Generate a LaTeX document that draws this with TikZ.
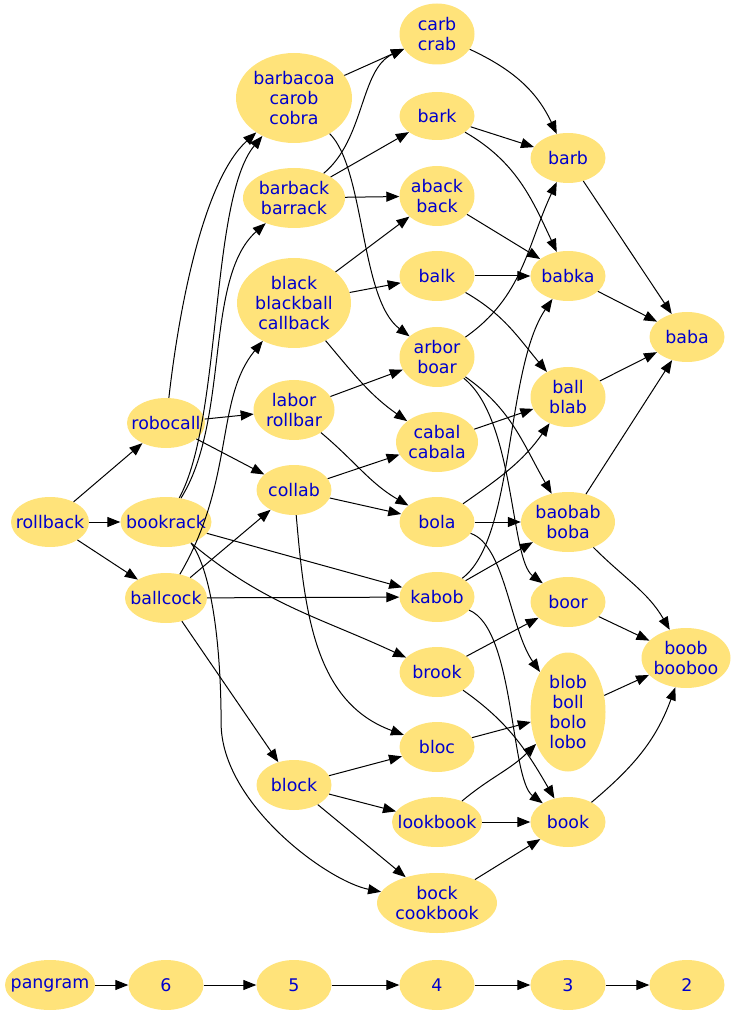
\documentclass[tikz,border=0pt]{standalone}
\usepackage{fontspec}
\setmainfont{DejaVu Sans}
\usepackage{xcolor}
\usepackage{tikz}
\usetikzlibrary{shapes, positioning, arrows.meta}
\definecolor{wordfill}{RGB}{255,227,122}
\definecolor{wordtext}{RGB}{0,0,205}

\begin{document}
\begin{tikzpicture}[
    on grid, align = center,
    word/.style = {
      ellipse, fill = wordfill, text = wordtext,
      font = \fontsize{17.4}{20}\selectfont,
      inner xsep = -14pt, inner ysep = 0pt,
      minimum width = 75pt, minimum height = 50pt
    },
    wordpair/.style = {word, minimum height = 60pt},
    wordtriple/.style = {word, minimum height = 90pt},
    link/.style = {
      arrows = ->, line width = 1pt, > = {Triangle[length = 13pt, width = 10pt]}
    },
    ]

    \useasboundingbox (-50pt, -493pt) rectangle (689pt, 522pt);

    % draw letter sets of six
    \node  [word, minimum width = 78pt]  (rollback)  {rollback};
    \node  [word, minimum width = 91pt]  (bookrack)  [right = 116pt of rollback]  {bookrack};
    \node  [word, minimum width = 78pt]  (robocall)  [above = 99pt of bookrack]  {robocall};
    \node  [word, minimum width = 82pt]  (ballcock)  [below = 76pt of bookrack]  {ballcock};

    % draw letter sets of four
    \node  [word]  (bola)  [right = 271pt of bookrack]  {bola};
    \node  [wordpair, minimum width = 82pt]  (cabal)  [above = 80pt of bola]  {cabal\\cabala};
    \node  [wordpair]  (arbor)  [above = 85pt of cabal]  {arbor\\boar};
    \node  [word]  (balk)  [above = 81pt of arbor]  {balk};
    \node  [wordpair]  (aback)  [above = 80pt of balk]  {aback\\back};
    \node  [word, minimum height = 48pt]  (bark)  [above = 80pt of aback]  {bark};
    \node  [wordpair, minimum height = 61pt]  (carb)  [above = 82pt of bark]  {carb\\crab};
    \node  [word]  (kabob)  [below = 75pt of bola]  {kabob};
    \node  [word]  (brook)  [below = 75pt of kabob]  {brook};
    \node  [word]  (bloc)  [below = 75pt of brook]  {bloc};
    \node  [word, minimum width = 90pt]  (lookbook)  [below = 75pt of bloc]  {lookbook};
    \node  [wordpair, minimum width = 120pt]  (bock)  [below = 81pt of lookbook]  {bock\\cookbook};

    % draw letter sets of five
    \node  [wordpair, minimum width = 102pt]  (barback)  [below left = 2pt and 143pt of aback]  {barback\\barrack};
    \node  [wordtriple, minimum width = 116pt]  (barbacoa)  [above = 100pt of barback]  {barbacoa\\carob\\cobra};
    \node  [wordtriple, minimum width = 114pt]  (black)  [below = 105pt of barback]  {black\\blackball\\callback};
    \node  [wordpair, minimum width = 81pt]  (labor)  [below = 107pt of black]  {labor\\rollbar};
    \node  [word]  (collab)  [below = 80pt of labor]  {collab};
    \node  [word]  (block)  [below = 295pt of collab]  {block};

    % draw letter sets of three
    \node  [word]  (barb)  [below right = 42pt and 131pt of bark]  {barb};
    \node  [word]  (babka)  [right = 131pt of balk]  {babka};
    \node  [wordpair]  (ball)  [below right = 40pt and 131pt of arbor]  {ball\\blab};
    \node  [wordpair, minimum width = 94pt]  (baobab)  [right = 131pt of bola]  {baobab\\boba};
    \node  [word]  (boor)  [below = 80pt of baobab]  {boor};
    \node  [word, minimum height = 119pt]  (blob)  [below = 110pt of boor]  {blob\\boll\\bolo\\lobo};
    \node  [word]  (book)  [right = 131pt of lookbook]  {book};

    % draw letter sets of two
    \node  [word]  (baba)  [above right = 60pt and 119pt of ball]  {baba};
    \node  [wordpair, minimum width = 89pt]  (boob)  [below right = 56pt and 118pt of boor]  {boob\\booboo};

    % draw rank row
    \node  [word, minimum width = 90pt]  (rank7)  [below = 463pt of rollback]  {pangram};
    \foreach \i/\d [remember = \i as \lasti (initially 7)] in {6/116pt, 5/128pt, 4/143pt, 3/131pt, 2/119pt}
    \node  [word]  (rank\i)  [right = \d of rank\lasti]  {\i};

    \foreach \i [remember = \i as \lasti (initially 7)] in {6, ..., 2}
    \draw  [link]  (rank\lasti)  to  (rank\i);

    % draw straight links
    \foreach \a/\b in {rollback/robocall, rollback/bookrack, rollback/ballcock,
      robocall/labor, robocall/collab, ballcock/collab, ballcock/kabob,
      ballcock/block, bookrack/kabob, barbacoa/carb, barback/bark,
      barback/aback, black/aback, black/balk, labor/arbor, collab/cabal,
      collab/bola, block/bloc, block/lookbook, block/bock, bark/barb,
      aback/babka, balk/babka, cabal/ball, bola/baobab, kabob/baobab,
      brook/boor, bloc/blob, lookbook/book, bock/book, barb/baba,
      babka/baba, ball/baba, baobab/baba, boor/boob, blob/boob}
    \draw  [link]  (\a)  to  (\b);

    % draw bent links
    \foreach \a/\b/\o/\n in {bookrack/brook/-40/155, black/cabal/-50/145,
      labor/bola/-40/150, collab/bloc/-85/160, carb/barb/-25/115,
      bark/babka/-30/115, balk/ball/-30/130, arbor/barb/35/245,
      arbor/baobab/-35/120, bola/ball/35/235, brook/book/-35/120,
      lookbook/blob/40/225, baobab/boob/-45/120, book/boob/40/250}
    \draw  [link]  (\a)  to [out = \o, in = \n]  (\b);

    % draw long links
    \draw  [link]  (robocall)  .. controls +(14pt, 123pt) and +(-89pt, -81pt) ..  (barbacoa);
    \draw  [link]  (bookrack)  .. controls +(56pt, 102pt) and +(-84pt, -101pt) ..  (barbacoa);
    \draw  [link]  (bookrack)  .. controls +(64pt, 102pt) and +(-90pt, -80pt) ..  (barback);
    \draw  [link]  (ballcock)  .. controls +(69pt, 118pt) and +(-79pt, -96pt) ..  (black);
    \draw  [link]  (bookrack.-40)  .. controls +(22pt, -30pt) and +(0pt, 70pt) ..  ++(30pt, -180pt)
      .. controls +(0pt, -80pt) and +(-110pt, 22pt) ..  (bock);
    \draw  [link]  (barbacoa)  .. controls +(71pt, -71pt) and +(-77pt, 58pt) ..  (arbor);
    \draw  [link]  (barback)  .. controls +(71pt, 59pt) and +(-77pt, -35pt) ..  (carb);
    \draw  [link]  (arbor)  .. controls +(78pt, -62pt) and +(-58pt, 43pt) ..  (boor);
    \draw  [link]  (bola)  .. controls +(68pt, -23pt) and +(-58pt, 83pt) ..  (blob);
    \draw  [link]  (kabob)  .. controls +(78pt, 58pt) and +(-63pt, -93pt) ..  (babka);
    \draw  [link]  (kabob)  .. controls +(78pt, -32pt) and +(-58pt, 43pt) ..  (book);

\end{tikzpicture}
\end{document}
